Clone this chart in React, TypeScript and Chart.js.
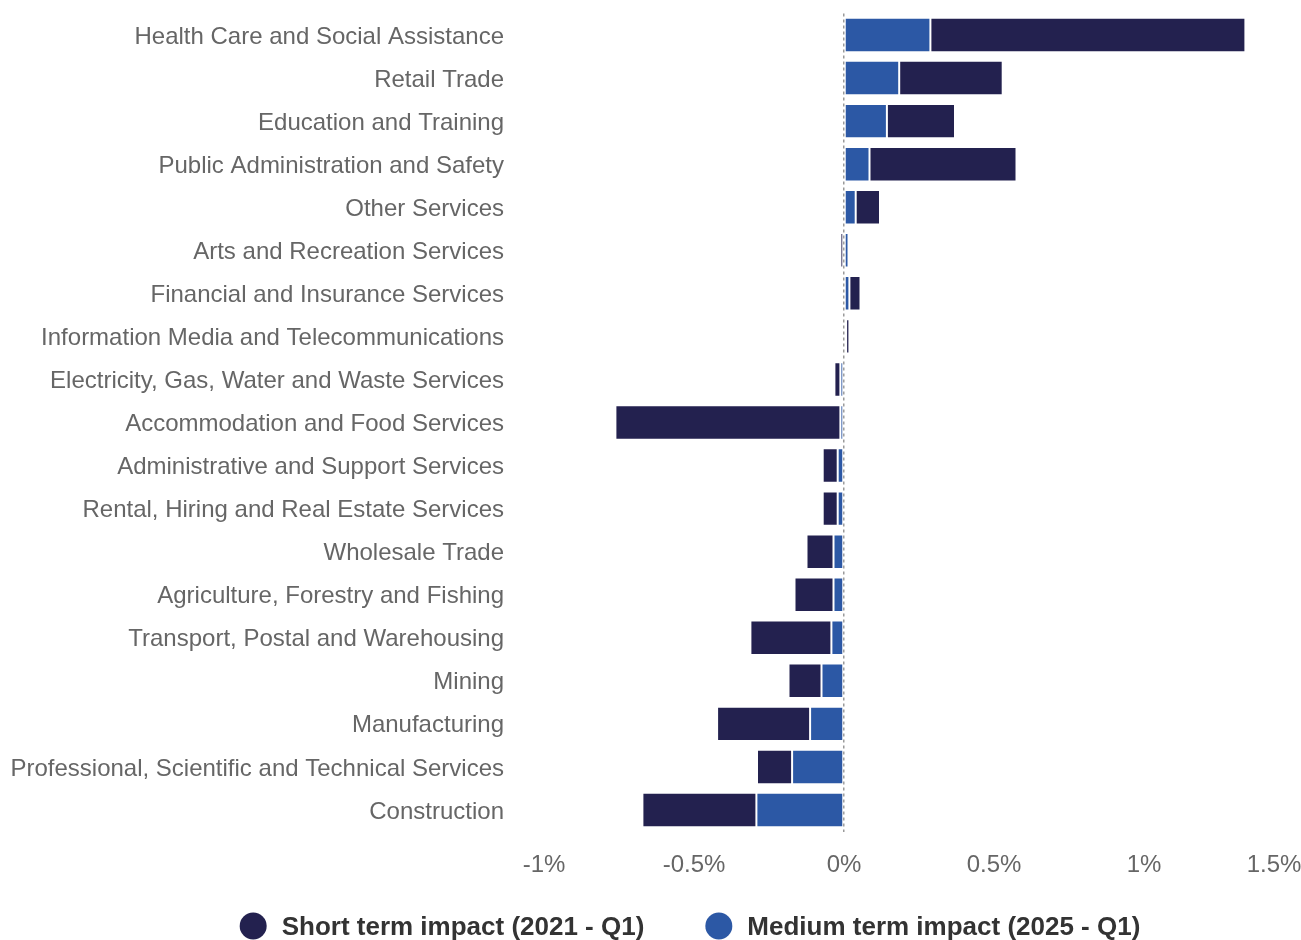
import React, { useEffect, useRef } from "react";
import { Chart, registerables } from "chart.js";

Chart.register(...registerables);

const categories = [
  "Health Care and Social Assistance",
  "Retail Trade",
  "Education and Training",
  "Public Administration and Safety",
  "Other Services",
  "Arts and Recreation Services",
  "Financial and Insurance Services",
  "Information Media and Telecommunications",
  "Electricity, Gas, Water and Waste Services",
  "Accommodation and Food Services",
  "Administrative and Support Services",
  "Rental, Hiring and Real Estate Services",
  "Wholesale Trade",
  "Agriculture, Forestry and Fishing",
  "Transport, Postal and Warehousing",
  "Mining",
  "Manufacturing",
  "Professional, Scientific and Technical Services",
  "Construction",
];

const shortTerm = [
  1.05, 0.345, 0.227, 0.49, 0.081, -0.012, 0.037, 0.011, -0.02, -0.75,
  -0.05, -0.05, -0.09, -0.13, -0.27, -0.11, -0.31, -0.117, -0.38,
];

const mediumTerm = [
  0.288, 0.184, 0.143, 0.085, 0.039, 0.015, 0.018, 0.007, -0.012, -0.012,
  -0.021, -0.021, -0.035, -0.035, -0.042, -0.075, -0.113, -0.173, -0.292,
];

const xTickValues = [-1, -0.5, 0, 0.5, 1, 1.5];
const xTickLabels = ["-1%", "-0.5%", "0%", "0.5%", "1%", "1.5%"];

const seriesNames = ["Short term impact (2021 - Q1)", "Medium term impact (2025 - Q1)"];
const SHORT_COLOR = "#23214f";
const MEDIUM_COLOR = "#2c58a5";
const FONT = "'Liberation Sans', Arial, Helvetica, sans-serif";

const legendPlugin = {
  id: "bottomLegend",
  afterDraw(chart: any) {
    const ctx = chart.ctx as CanvasRenderingContext2D;
    const items = [
      { text: seriesNames[0], color: SHORT_COLOR },
      { text: seriesNames[1], color: MEDIUM_COLOR },
    ];
    const r = 13.5;
    const gapText = 15;
    const gapItem = 61;
    const cy = 926;
    ctx.save();
    ctx.font = `bold 26px ${FONT}`;
    ctx.textBaseline = "middle";
    ctx.textAlign = "left";
    const widths = items.map((it) => ctx.measureText(it.text).width);
    const total =
      widths.reduce((a, w) => a + w + 2 * r + gapText, 0) + gapItem * (items.length - 1);
    let x = 690 - total / 2;
    items.forEach((it, i) => {
      ctx.fillStyle = it.color;
      ctx.beginPath();
      ctx.arc(x + r, cy, r, 0, Math.PI * 2);
      ctx.fill();
      ctx.fillStyle = "#333333";
      ctx.fillText(it.text, x + 2 * r + gapText, cy + 2);
      x += 2 * r + gapText + widths[i] + gapItem;
    });
    ctx.restore();
  },
};

export default function App() {
  const canvasRef = useRef<HTMLCanvasElement | null>(null);

  useEffect(() => {
    if (!canvasRef.current) return;
    const chart = new Chart(canvasRef.current, {
      type: "bar",
      data: {
        labels: categories,
        datasets: [
          {
            label: seriesNames[1],
            data: mediumTerm,
            backgroundColor: MEDIUM_COLOR,
            borderColor: "#ffffff",
            borderWidth: 1,
            borderSkipped: false,
          },
          {
            label: seriesNames[0],
            data: shortTerm,
            backgroundColor: SHORT_COLOR,
            borderColor: "#ffffff",
            borderWidth: 1,
            borderSkipped: false,
          },
        ],
      },
      options: {
        indexAxis: "y",
        responsive: true,
        maintainAspectRatio: false,
        animation: false,
        layout: { padding: { top: 13.5, right: 7, bottom: 0, left: 0 } },
        datasets: {
          bar: { categoryPercentage: 1, barPercentage: 0.8 },
        },
        plugins: {
          legend: { display: false },
          tooltip: { enabled: false },
        },
        scales: {
          x: {
            type: "linear",
            stacked: true,
            min: -1,
            max: 1.5,
            afterBuildTicks: (scale: any) => {
              scale.ticks = xTickValues.map((v) => ({ value: v }));
            },
            afterFit: (scale: any) => {
              scale.height = 108.5;
              scale.paddingLeft = 0;
              scale.paddingRight = 0;
            },
            ticks: {
              padding: 19,
              color: "#666666",
              font: { family: FONT, size: 24 },
              maxRotation: 0,
              autoSkip: false,
              callback: (value: any) => {
                const i = xTickValues.indexOf(Number(value));
                const label = i >= 0 ? xTickLabels[i] : "";
                return i === xTickValues.length - 1 ? label + "\u00a0".repeat(6) : label;
              },
            },
            grid: {
              drawTicks: false,
              color: (c: any) =>
                c.tick && c.tick.value === 0 ? "#9a9a9a" : "rgba(0,0,0,0)",
              lineWidth: 1.5,
            },
            border: { display: false, dash: [3, 3] },
          },
          y: {
            type: "category",
            stacked: true,
            afterFit: (scale: any) => {
              scale.width = 544;
              scale.paddingTop = 0;
              scale.paddingBottom = 0;
            },
            ticks: {
              padding: 40,
              labelOffset: 2,
              color: "#666666",
              font: { family: FONT, size: 24 },
              autoSkip: false,
            },
            grid: { display: false, drawTicks: false },
            border: { display: false },
          },
        },
      },
      plugins: [legendPlugin],
    });
    return () => chart.destroy();
  }, []);

  return (
    <div style={{ position: "absolute", left: 0, top: 0, width: 1301, height: 940 }}>
      <canvas ref={canvasRef} />
    </div>
  );
}
